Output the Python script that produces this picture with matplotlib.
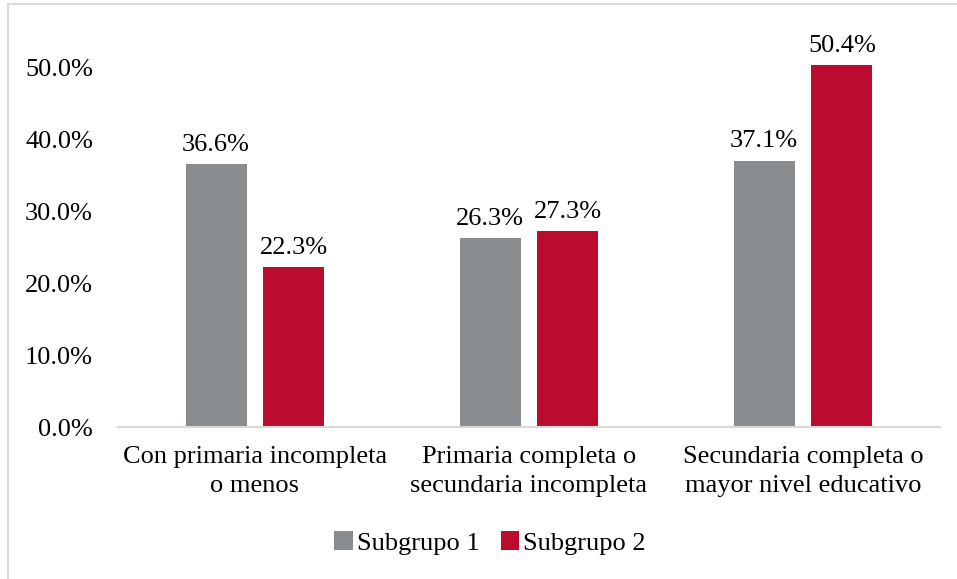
import numpy as np
import matplotlib.pyplot as plt
from matplotlib.patches import Rectangle
from matplotlib.ticker import PercentFormatter

categorias = ['Con primaria incompleta\no menos',
              'Primaria completa o\nsecundaria incompleta',
              'Secundaria completa o\nmayor nivel educativo']
subgrupo_1 = [36.6, 26.3, 37.1]
subgrupo_2 = [22.3, 27.3, 50.4]

gris = '#898C8E'
rojo = '#BA0C2F'

plt.rcParams['font.family'] = ['Liberation Serif', 'DejaVu Serif']
plt.rcParams['font.size'] = 19

W, H = 957, 579
fig = plt.figure(figsize=(W / 100, H / 100), dpi=100)

# marco gris claro del grafico
fig.patches.append(Rectangle((8 / W, -0.1), 1.2, 1 - 4 / H + 0.1,
                             transform=fig.transFigure, fill=False,
                             edgecolor='#D9D9D9', linewidth=1.5))

ax = fig.add_axes([118 / W, 1 - 427 / H, (940 - 118) / W, (427 - 10) / H])

x = np.arange(len(categorias))
ancho = 0.2226
desp = 0.142
b1 = ax.bar(x - desp, subgrupo_1, ancho, color=gris, label='Subgrupo 1')
b2 = ax.bar(x + desp, subgrupo_2, ancho, color=rojo, label='Subgrupo 2')

for barras in (b1, b2):
    for b in barras:
        ax.annotate(f'{b.get_height():.1f}%',
                    (b.get_x() + b.get_width() / 2, b.get_height()),
                    xytext=(0, 6), textcoords='offset points',
                    ha='center', va='bottom')

ax.set_xlim(-0.5, 2.5)
ax.set_ylim(0, 50 + (68 - 10) / 7.18)
ax.set_yticks(np.arange(0, 51, 10))
ax.yaxis.set_major_formatter(PercentFormatter(decimals=1))
ax.set_xticks(x)
ax.set_xticklabels(categorias, linespacing=1.4)
ax.tick_params(axis='y', length=0, pad=18)
ax.tick_params(axis='x', length=0, pad=14)

for lado in ['top', 'right', 'left']:
    ax.spines[lado].set_visible(False)
ax.spines['bottom'].set_color('#D9D9D9')
ax.spines['bottom'].set_linewidth(1.5)

fig.legend(handles=[b1, b2], loc='center', bbox_to_anchor=(490 / W, 1 - 543 / H),
           ncol=2, frameon=False, handlelength=0.7, handleheight=0.7,
           handletextpad=0.15, columnspacing=0.8)

fig.savefig('out.png', dpi=100)
